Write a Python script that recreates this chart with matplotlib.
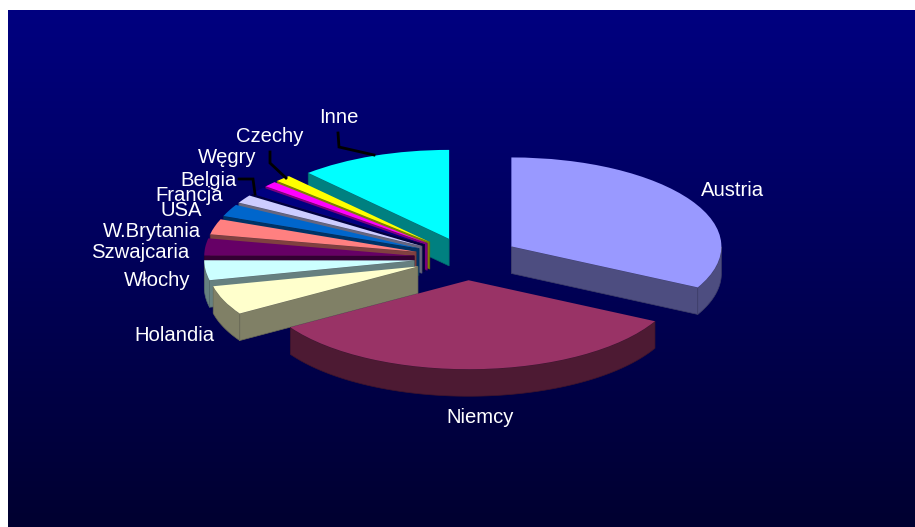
import numpy as np
import matplotlib
matplotlib.use('Agg')
import matplotlib.pyplot as plt
from matplotlib.colors import to_rgb
from matplotlib.patches import Polygon

plt.rcParams['font.family'] = ['Liberation Sans', 'DejaVu Sans']

labels = ['Austria', 'Niemcy', 'Holandia', 'Włochy', 'Szwajcaria', 'W.Brytania',
          'USA', 'Francja', 'Belgia', 'Węgry', 'Czechy', 'Inne']
shares = [32.6, 33.5, 5.3, 3.6, 3.1, 2.8, 2.2, 1.5, 1.4, 1.0, 1.25, 11.7]
colors = ['#9999FF', '#993366', '#FFFFCC', '#CCFFFF', '#660066', '#FF8080',
          '#0066CC', '#CCCCFF', '#000080', '#FF00FF', '#FFFF00', '#00FFFF']

W, H = 915, 527
CX, CY = 466.5, 258      # pie centre in pixels
RX, RY = 210.0, 89.0     # pixels per pie radius
DEPTH = 27 / RY
explode = [0.25] * 11 + [0.23]

# back to front
draw_order = [0, 11, 10, 9, 8, 7, 6, 5, 4, 3, 2, 1]

label_px = {
    'Austria': (733, 191), 'Niemcy': (480, 418), 'Holandia': (174, 336),
    'Włochy': (157, 281), 'Szwajcaria': (140, 253), 'W.Brytania': (152, 232),
    'USA': (181, 211), 'Francja': (189, 196), 'Belgia': (209, 181),
    'Węgry': (227, 158), 'Czechy': (270, 137), 'Inne': (339, 118),
}
leaders_px = [
    [(338, 133), (339, 147), (374, 155)],
    [(270, 152), (270, 163), (286, 178)],
    [(239, 179), (253, 179), (255, 194)],
]


def px(x, y):
    return (x - CX) / RX, (CY - y) / RY


def dark(c, f=0.5):
    return tuple(v * f for v in to_rgb(c))


fig = plt.figure(figsize=(W / 100, H / 100), dpi=100, facecolor='white')
ax = fig.add_axes([0, 0, 1, 1])

wedges, _ = ax.pie(shares, colors=colors, startangle=90, counterclock=False,
                   explode=explode, normalize=True)
ax.set_aspect('auto')
ax.axis('off')

# background gradient
x0, y1 = px(8, 10)
x1, y0 = px(W, H)
grad = np.zeros((256, 1, 3))
grad[:, 0, 2] = np.linspace(0x80, 0x30, 256) / 255
ax.imshow(grad, extent=(x0, x1, y0, y1), aspect='auto', zorder=0, interpolation='bilinear')
ax.set_xlim(px(0, 0)[0], px(W, 0)[0])
ax.set_ylim(px(0, H)[1], px(0, 0)[1])

for rank, i in enumerate(draw_order):
    w = wedges[i]
    cx, cy = w.center
    t1, t2 = w.theta1, w.theta2      # ccw, so t2 is the clockwise start
    side = dark(colors[i])
    edge = dark(colors[i], 0.42)
    z = 2 * rank + 1
    w.set_zorder(z + 1)
    w.set_edgecolor('none')

    faces = []
    # cut edges
    if np.cos(np.radians(t2)) < -1e-6:
        faces.append([(cx, cy), (cx + np.cos(np.radians(t2)), cy + np.sin(np.radians(t2)))])
    if np.cos(np.radians(t1)) > 1e-6:
        faces.append([(cx, cy), (cx + np.cos(np.radians(t1)), cy + np.sin(np.radians(t1)))])
    # outer rim, only the part facing down
    a = np.linspace(t1, t2, 200)
    a = a[np.sin(np.radians(a)) < 0]
    if len(a) > 1:
        faces.append(list(zip(cx + np.cos(np.radians(a)), cy + np.sin(np.radians(a)))))
    for f in faces:
        top = np.array(f)
        low = top[::-1] - [0, DEPTH]
        ax.add_patch(Polygon(np.vstack([top, low]), closed=True, facecolor=side,
                             edgecolor=edge, linewidth=0.5, zorder=z))

for pts in leaders_px:
    xy = np.array([px(*p) for p in pts])
    ax.plot(xy[:, 0], xy[:, 1], color='black', lw=2, zorder=40, solid_joinstyle='miter')

for name in labels:
    lx, ly = px(*label_px[name])
    ax.text(lx, ly, name, color='white', fontsize=14.6, ha='center', va='center', zorder=50)

fig.savefig('out.png', dpi=100, facecolor='white')
